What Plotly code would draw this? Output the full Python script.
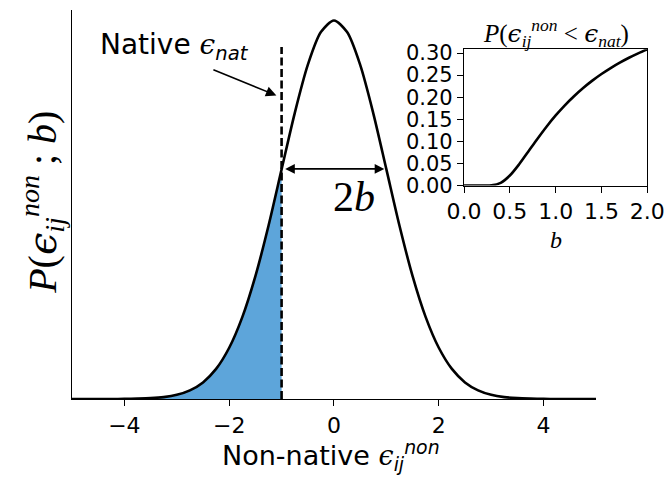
import plotly.graph_objects as go

# ---- data ----
# main curve: density of non-native energies
eps_x = [-5.0, -4.75, -4.5, -4.25, -4.0, -3.75, -3.5, -3.25, -3.0, -2.75, -2.5, -2.25,
         -2.0, -1.75, -1.5, -1.25, -1.0, -0.75, -0.5, -0.25, 0.0, 0.25, 0.5, 0.75,
         1.0, 1.25, 1.5, 1.75, 2.0, 2.25, 2.5, 2.75, 3.0, 3.25, 3.5, 3.75, 4.0,
         4.25, 4.5, 4.75, 5.0]
density = [0.0, 0.0, 0.0, 0.0, 0.0001, 0.0004, 0.0009, 0.0020, 0.0044, 0.0091, 0.0175, 0.0317,
           0.0540, 0.0863, 0.1295, 0.1826, 0.2420, 0.3011, 0.3521, 0.3867, 0.3989, 0.3867, 0.3521, 0.3011,
           0.2420, 0.1826, 0.1295, 0.0863, 0.0540, 0.0317, 0.0175, 0.0091, 0.0044, 0.0020, 0.0009, 0.0004, 0.0001,
           0.0, 0.0, 0.0, 0.0]
eps_nat = -1.0
half_width = 1.0  # b

# inset: probability vs b
b_vals = [0.0, 0.1, 0.2, 0.3, 0.4, 0.5, 0.6, 0.7, 0.8, 0.9, 1.0, 1.1, 1.2, 1.3, 1.4,
          1.5, 1.6, 1.7, 1.8, 1.9, 2.0]
p_vals = [0.0, 0.0, 0.0, 0.0004, 0.0062, 0.0228, 0.0478, 0.0766, 0.1056, 0.1333, 0.1587, 0.1817,
          0.2023, 0.2209, 0.2375, 0.2525, 0.2660, 0.2782, 0.2893, 0.2993, 0.3085]

main_ticks = [-4, -2, 0, 2, 4]
main_tick_text = ["\u22124", "\u22122", "0", "2", "4"]
inset_xticks = [0.0, 0.5, 1.0, 1.5, 2.0]
inset_yticks = [0.0, 0.05, 0.10, 0.15, 0.20, 0.25, 0.30]

# ---- figure ----
fill_x = [x for x in eps_x if x <= eps_nat]
fill_y = [d for x, d in zip(eps_x, density) if x <= eps_nat]

fig = go.Figure()
fig.add_trace(go.Scatter(x=fill_x, y=fill_y, mode="lines", fill="tozeroy",
                         fillcolor="#5da5da", line=dict(width=0, shape="spline", smoothing=0.8),
                         hoverinfo="skip", showlegend=False))
fig.add_trace(go.Scatter(x=eps_x, y=density, mode="lines",
                         line=dict(color="black", width=2.6, shape="spline", smoothing=0.8),
                         showlegend=False))
fig.add_trace(go.Scatter(x=b_vals, y=p_vals, mode="lines", xaxis="x2", yaxis="y2",
                         line=dict(color="black", width=2.6, shape="spline", smoothing=0.8),
                         showlegend=False))

y_top = 0.41
fig.add_shape(type="line", x0=eps_nat, x1=eps_nat, y0=0, y1=0.371, xref="x", yref="y",
              line=dict(color="black", width=2.6, dash="8px,3.5px"))

serif = "Liberation Serif"
sans = "DejaVu Sans"
EPS = "<span style='font-family:DejaVu Serif'><i>\u03f5</i></span>"

fig.update_layout(
    width=668, height=480,
    margin=dict(l=72, r=20, t=10, b=81, autoexpand=False),
    paper_bgcolor="white", plot_bgcolor="rgba(0,0,0,0)",
    font=dict(family=sans, size=22, color="black"),
    xaxis=dict(domain=[0, 0.9097], range=[-5, 5], showgrid=False, zeroline=False, automargin=False,
               showline=True, linecolor="black", linewidth=1.2,
               ticks="outside", ticklen=6, tickwidth=1.2, tickcolor="black",
               tickvals=main_ticks, ticktext=main_tick_text, tickfont=dict(size=22)),
    yaxis=dict(domain=[0, 1], range=[0, y_top], showgrid=False, zeroline=False, automargin=False,
               showline=True, linecolor="black", linewidth=1.2, ticks="", showticklabels=False),
    xaxis2=dict(domain=[0.6806, 0.9988], anchor="y2", range=[0, 2], showgrid=False, zeroline=False,
                automargin=False,
                showline=True, mirror=True, linecolor="black", linewidth=1.2,
                ticks="outside", ticklen=6, tickwidth=1.2, tickcolor="black",
                tickvals=inset_xticks, tickformat=".1f", tickfont=dict(size=22)),
    yaxis2=dict(domain=[0.5487, 0.899], anchor="x2", range=[0, 0.3085], showgrid=False, zeroline=False,
                automargin=False,
                showline=True, mirror=True, linecolor="black", linewidth=1.2,
                ticks="outside", ticklen=6, tickwidth=1.2, tickcolor="black",
                tickvals=inset_yticks, tickformat=".2f", tickfont=dict(size=21)),
)

# main x label
fig.add_annotation(xref="paper", yref="paper", x=(331 - 72) / 576, y=(399.3 - 456) / 389.3,
                   yanchor="middle", showarrow=False,
                   text="Non-native " + EPS + "<sub><i>ij</i></sub><sup><i>non</i></sup>",
                   font=dict(family=sans, size=27))
# main y label
fig.add_annotation(xref="paper", yref="paper", x=(42 - 72) / 576, y=(399.3 - 203) / 389.3,
                   showarrow=False, textangle=-90, xanchor="center", yanchor="middle",
                   text="<i>P</i>(" + EPS + "<sub><i>ij</i></sub><sup><i>non</i></sup> ; <i>b</i>)",
                   font=dict(family=serif, size=40))
# Native label
fig.add_annotation(xref="paper", yref="paper", x=(98 - 72) / 576, y=(399.3 - 47) / 389.3,
                   xanchor="left", yanchor="middle", showarrow=False,
                   text="Native " + EPS + "<sub><i>nat</i></sub>",
                   font=dict(family=sans, size=28))
# Native arrow
fig.add_annotation(x=-1.1, y=0.320, ax=-2.33, ay=0.3476, xref="x", yref="y", axref="x", ayref="y",
                   text="", showarrow=True, arrowhead=2, arrowsize=1.3, arrowwidth=1.6, arrowcolor="black")
# 2b double arrow
fig.add_annotation(x=eps_nat + 2 * half_width - 0.04, y=0.2425, ax=eps_nat + 0.04, ay=0.2425,
                   xref="x", yref="y", axref="x", ayref="y", text="", showarrow=True,
                   arrowhead=2, startarrowhead=2, arrowside="end+start", arrowsize=1.2,
                   startarrowsize=1.2, arrowwidth=1.6, arrowcolor="black")
fig.add_annotation(x=0.38, y=0.213, xref="x", yref="y", showarrow=False,
                   text="2<i>b</i>", font=dict(family=serif, size=42))
# inset title
fig.add_annotation(xref="paper", yref="paper", x=(556 - 72) / 576, y=(399.3 - 33) / 389.3,
                   showarrow=False, xanchor="center", yanchor="middle",
                   text="<i>P</i>(" + EPS + "<sub><i>ij</i></sub><sup><i>non</i></sup> &lt; " + EPS + "<sub><i>nat</i></sub>)",
                   font=dict(family=serif, size=25))
# inset x label
fig.add_annotation(xref="paper", yref="paper", x=(556 - 72) / 576, y=(399.3 - 240) / 389.3,
                   showarrow=False, xanchor="center", yanchor="middle",
                   text="<i>b</i>", font=dict(family=serif, size=24))

fig.write_html("out.html", config={"displayModeBar": False},
               post_script="document.body.style.margin='0';document.body.style.padding='0';")
